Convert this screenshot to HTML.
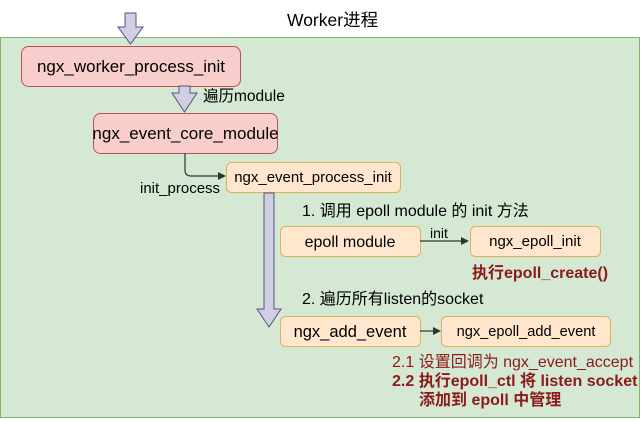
<!DOCTYPE html>
<html><head><meta charset="utf-8"><style>
html,body{margin:0;padding:0;background:#fff;}
svg{display:block;}
text{font-family:"Liberation Sans","Noto Sans CJK SC",sans-serif;}
</style></head><body>
<svg width="641" height="421" viewBox="0 0 641 421" xmlns="http://www.w3.org/2000/svg">
<rect x="0.5" y="37.5" width="639" height="380" fill="#d5e8d4" stroke="#82b366"/>
<text x="287" y="26" font-size="17.5" fill="#000">Worker进程</text>
<polygon points="125,13 136,13 136,27 143,27 130.5,44 118,27 125,27" fill="#d0cee2" stroke="#56517e"/>
<rect x="21.5" y="46.5" width="219" height="40" rx="7" fill="#f8cecc" stroke="#b85450"/>
<text x="131" y="72" font-size="17" text-anchor="middle">ngx_worker_process_init</text>
<polygon points="179,86 190,86 190,93 197,93 184.5,112 172,93 179,93" fill="#d0cee2" stroke="#56517e"/>
<text x="203" y="101" font-size="15.5">遍历module</text>
<rect x="93.5" y="113.5" width="184" height="40" rx="7" fill="#f8cecc" stroke="#b85450"/>
<text x="185.5" y="139" font-size="17" text-anchor="middle">ngx_event_core_module</text>
<path d="M185,153 V170 Q185,176 191,176 H220" fill="none" stroke="#333" stroke-width="1.2"/>
<polygon points="226,176 218,172 218,180" fill="#333"/>
<text x="140" y="193" font-size="15">init_process</text>
<rect x="226.5" y="162.5" width="174" height="30" rx="5" fill="#ffe6cc" stroke="#d6b656"/>
<text x="313" y="182" font-size="15" text-anchor="middle">ngx_event_process_init</text>
<polygon points="264,193 274,193 274,309 281,309 269,327 257,309 264,309" fill="#d0cee2" stroke="#56517e"/>
<text x="302" y="216" font-size="16">1. 调用 epoll module 的 init 方法</text>
<rect x="280.5" y="226.5" width="140" height="30" rx="5" fill="#ffe6cc" stroke="#d6b656"/>
<text x="350" y="247" font-size="16" text-anchor="middle">epoll module</text>
<line x1="420" y1="241" x2="462" y2="241" stroke="#333" stroke-width="1.2"/>
<polygon points="469,241 461,237 461,245" fill="#333"/>
<text x="430" y="238" font-size="14">init</text>
<rect x="470.5" y="226.5" width="130" height="30" rx="5" fill="#ffe6cc" stroke="#d6b656"/>
<text x="535" y="246" font-size="15" text-anchor="middle">ngx_epoll_init</text>
<text x="472" y="278" font-size="16" font-weight="bold" fill="#8b1a1a">执行epoll_create()</text>
<text x="302" y="304" font-size="16">2. 遍历所有listen的socket</text>
<rect x="280.5" y="316.5" width="140" height="30" rx="5" fill="#ffe6cc" stroke="#d6b656"/>
<text x="350" y="337" font-size="16.5" text-anchor="middle">ngx_add_event</text>
<line x1="420" y1="331" x2="434" y2="331" stroke="#333" stroke-width="1.2"/>
<polygon points="441,331 433,327 433,335" fill="#333"/>
<rect x="441.5" y="316.5" width="169" height="30" rx="5" fill="#ffe6cc" stroke="#d6b656"/>
<text x="526" y="336" font-size="14.6" text-anchor="middle">ngx_epoll_add_event</text>
<text x="392" y="367" font-size="16" fill="#8b1a1a">2.1 设置回调为 ngx_event_accept</text>
<text x="392" y="386" font-size="16" font-weight="bold" fill="#8b1a1a">2.2 执行epoll_ctl 将 listen socket</text>
<text x="419" y="405" font-size="16" font-weight="bold" fill="#8b1a1a">添加到 epoll 中管理</text>
</svg>
</body></html>
